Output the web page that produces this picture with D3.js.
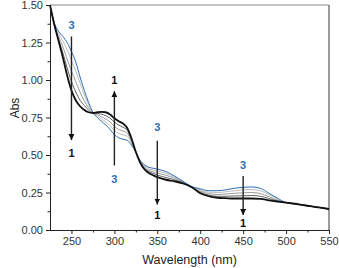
<!DOCTYPE html>
<html>
<head>
<meta charset="utf-8">
<script src="https://cdn.jsdelivr.net/npm/d3@7"></script>
<style>
  body { margin: 0; background: #fff; }
  svg { display: block; font-family: Arial, "Liberation Sans", sans-serif; }
</style>
</head>
<body>
<svg id="chart" width="339" height="268"></svg>
<script>
// wavelength grid (nm)
const wavelengths = [225, 230, 235, 240, 245, 250, 255, 260, 265, 270, 275, 280, 285, 290, 295,
  300, 305, 310, 315, 320, 325, 330, 335, 340, 345, 350, 360, 370, 380, 390, 400, 410, 420,
  430, 440, 450, 460, 470, 480, 490, 500, 510, 520, 530, 540, 550];

// absorbance, spectrum 1 (black) .. spectrum 3 (blue)
const abs1 = [1.50, 1.37, 1.26, 1.15, 1.03, 0.93, 0.865, 0.825, 0.80, 0.785, 0.78, 0.785, 0.788, 0.785, 0.77,
  0.745, 0.725, 0.71, 0.68, 0.61, 0.52, 0.45, 0.405, 0.38, 0.365, 0.352, 0.335, 0.325, 0.31, 0.285, 0.245, 0.225, 0.215,
  0.212, 0.21, 0.21, 0.21, 0.208, 0.198, 0.19, 0.183, 0.175, 0.166, 0.157, 0.149, 0.14];
const absA = [1.50, 1.37, 1.27, 1.18, 1.08, 0.99, 0.92, 0.865, 0.83, 0.80, 0.781, 0.778, 0.772, 0.762, 0.745,
  0.72, 0.70, 0.685, 0.665, 0.60, 0.52, 0.452, 0.412, 0.39, 0.377, 0.366, 0.35, 0.335, 0.314, 0.286, 0.252, 0.232, 0.225,
  0.225, 0.227, 0.228, 0.23, 0.225, 0.21, 0.193, 0.183, 0.175, 0.166, 0.157, 0.149, 0.14];
const absB = [1.50, 1.37, 1.29, 1.22, 1.14, 1.06, 0.99, 0.92, 0.86, 0.815, 0.783, 0.77, 0.755, 0.74, 0.72,
  0.69, 0.67, 0.66, 0.645, 0.59, 0.52, 0.455, 0.42, 0.398, 0.388, 0.38, 0.365, 0.345, 0.318, 0.288, 0.26, 0.242, 0.237,
  0.24, 0.245, 0.248, 0.25, 0.243, 0.222, 0.198, 0.183, 0.175, 0.166, 0.157, 0.149, 0.14];
const absC = [1.50, 1.375, 1.31, 1.26, 1.20, 1.13, 1.06, 0.98, 0.90, 0.835, 0.785, 0.76, 0.74, 0.72, 0.695,
  0.665, 0.645, 0.635, 0.625, 0.575, 0.52, 0.46, 0.43, 0.408, 0.40, 0.393, 0.378, 0.352, 0.32, 0.29, 0.268, 0.252, 0.25,
  0.255, 0.262, 0.268, 0.27, 0.262, 0.235, 0.205, 0.183, 0.175, 0.166, 0.157, 0.149, 0.14];
const abs3 = [1.50, 1.38, 1.325, 1.29, 1.25, 1.19, 1.12, 1.02, 0.93, 0.85, 0.785, 0.75, 0.725, 0.70, 0.67,
  0.635, 0.615, 0.605, 0.598, 0.565, 0.52, 0.465, 0.435, 0.418, 0.412, 0.405, 0.39, 0.36, 0.325, 0.29, 0.275, 0.262, 0.262,
  0.268, 0.278, 0.285, 0.287, 0.278, 0.245, 0.212, 0.183, 0.175, 0.166, 0.157, 0.149, 0.14];

const xMajor = [250, 300, 350, 400, 450, 500, 550];
const xMinor = [275, 325, 375, 425, 475, 525];
const yMajor = [0, 0.25, 0.5, 0.75, 1.0, 1.25, 1.5];
const yMinor = [0.125, 0.375, 0.625, 0.875, 1.125, 1.375];

// arrows: wavelength, start, tip, label at start, label at tip
const arrows = [
  { w: 250, from: 1.29, to: 0.60, startLabel: '3', tipLabel: '1', startAt: 1.367, tipAt: 0.513 },
  { w: 300, from: 0.43, to: 0.925, startLabel: '3', tipLabel: '1', startAt: 0.34, tipAt: 1.0 },
  { w: 350, from: 0.595, to: 0.17, startLabel: '3', tipLabel: '1', startAt: 0.689, tipAt: 0.10 },
  { w: 450, from: 0.36, to: 0.10, startLabel: '3', tipLabel: '1', startAt: 0.435, tipAt: 0.05 }
];

const svg = d3.select('#chart'),
      margin = { top: 5, right: 10, bottom: 38, left: 50 },
      width = +svg.attr('width') - margin.left - margin.right,
      height = +svg.attr('height') - margin.top - margin.bottom,
      g = svg.append('g').attr('transform', `translate(${margin.left},${margin.top})`);

const blue = '#2b6fb3';

const x = d3.scaleLinear().domain([225, 550]).range([0, width]);
const y = d3.scaleLinear().domain([0, 1.5]).range([height, 0]);

// frame top / right
g.append('line').attr('x1', 0).attr('x2', width).attr('y1', 0).attr('y2', 0)
  .attr('stroke', '#8a8a8a').attr('stroke-width', 1);
g.append('line').attr('x1', width).attr('x2', width).attr('y1', 0).attr('y2', height)
  .attr('stroke', '#7a7a7a').attr('stroke-width', 1.5);

// spectra
const line = d3.line()
  .x((d, i) => x(wavelengths[i]))
  .y(d => y(d))
  .curve(d3.curveMonotoneX);

const series = [
  { values: absC, color: '#bdbdbd', w: 1 },
  { values: absB, color: '#9a9a9a', w: 1 },
  { values: absA, color: '#606060', w: 1 },
  { values: abs3, color: blue, w: 1 },
  { values: abs1, color: '#111', w: 1.8 }
];

g.append('g').attr('class', 'spectra')
  .selectAll('path')
  .data(series)
  .enter().append('path')
  .attr('d', d => line(d.values))
  .attr('fill', 'none')
  .attr('stroke', d => d.color)
  .attr('stroke-width', d => d.w)
  .attr('stroke-linejoin', 'round');

// axes
const styleAxis = sel => {
  sel.select('.domain').attr('stroke', '#222');
  sel.selectAll('.tick line').attr('stroke', '#222');
  sel.selectAll('.tick text').attr('fill', '#333').style('font-size', '11px');
};

g.append('g')
  .attr('transform', `translate(0,${height})`)
  .call(d3.axisBottom(x).tickValues(xMinor).tickSize(2.5).tickFormat('').tickSizeOuter(0))
  .call(styleAxis);
g.append('g')
  .attr('transform', `translate(0,${height})`)
  .call(d3.axisBottom(x).tickValues(xMajor).tickSize(4).tickPadding(3).tickSizeOuter(0))
  .call(styleAxis);

g.append('g')
  .call(d3.axisLeft(y).tickValues(yMinor).tickSize(2.5).tickFormat('').tickSizeOuter(0))
  .call(styleAxis);
g.append('g')
  .call(d3.axisLeft(y).tickValues(yMajor).tickSize(4).tickPadding(3).tickFormat(d3.format('.2f')).tickSizeOuter(0))
  .call(styleAxis);

// axis titles
svg.append('text')
  .attr('x', margin.left + width / 2)
  .attr('y', 260)
  .attr('text-anchor', 'middle')
  .attr('dominant-baseline', 'central')
  .attr('fill', '#222')
  .style('font-size', '12.5px')
  .text('Wavelength (nm)');

svg.append('text')
  .attr('transform', 'translate(15,108) rotate(-90)')
  .attr('text-anchor', 'middle')
  .attr('dominant-baseline', 'central')
  .attr('fill', '#222')
  .style('font-size', '12px')
  .text('Abs');

// arrows
const defs = svg.append('defs');
defs.append('marker')
  .attr('id', 'head')
  .attr('viewBox', '0 0 10 10')
  .attr('refX', 10).attr('refY', 5)
  .attr('markerWidth', 6).attr('markerHeight', 6)
  .attr('markerUnits', 'userSpaceOnUse')
  .attr('orient', 'auto')
  .append('path')
  .attr('d', 'M0,0 L10,5 L0,10 Z')
  .attr('fill', '#111');

const ann = g.append('g').attr('class', 'arrows');
ann.selectAll('line')
  .data(arrows)
  .enter().append('line')
  .attr('x1', d => x(d.w)).attr('x2', d => x(d.w))
  .attr('y1', d => y(d.from)).attr('y2', d => y(d.to))
  .attr('stroke', '#222')
  .attr('stroke-width', 1.4)
  .attr('marker-end', 'url(#head)');

ann.selectAll('text.start')
  .data(arrows)
  .enter().append('text')
  .attr('class', 'start')
  .attr('x', d => x(d.w)).attr('y', d => y(d.startAt))
  .attr('text-anchor', 'middle').attr('dominant-baseline', 'central')
  .attr('fill', blue).style('font-size', '11px').style('font-weight', 'bold')
  .text(d => d.startLabel);

ann.selectAll('text.tip')
  .data(arrows)
  .enter().append('text')
  .attr('class', 'tip')
  .attr('x', d => x(d.w)).attr('y', d => y(d.tipAt))
  .attr('text-anchor', 'middle').attr('dominant-baseline', 'central')
  .attr('fill', '#111').style('font-size', '11px').style('font-weight', 'bold')
  .text(d => d.tipLabel);
</script>
</body>
</html>
